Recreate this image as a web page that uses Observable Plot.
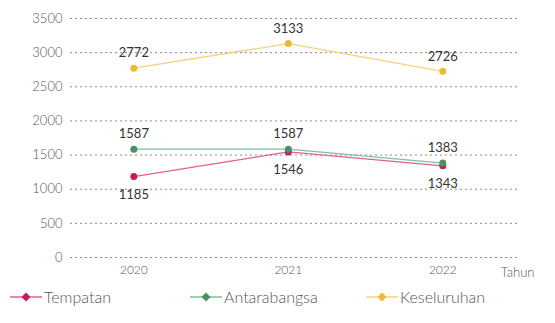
<!DOCTYPE html>
<html><head><meta charset="utf-8">
<script src="https://cdn.jsdelivr.net/npm/d3@7"></script>
<script src="https://cdn.jsdelivr.net/npm/@observablehq/plot@0.6"></script>
<style>
body{margin:0;background:#fff;font-family:Lato,"Open Sans",sans-serif;}
#legend{position:relative;height:30px;margin-top:-4px;font-size:16px;color:#555;font-weight:300;}
.item{display:flex;align-items:center;position:absolute;top:4px;}
</style></head><body>
<div id="chart"></div>
<div id="legend"></div>
<script>
const years = [2020, 2021, 2022];
const tempatan = [1185, 1546, 1343];
const antarabangsa = [1587, 1587, 1383];
const keseluruhan = [2772, 3133, 2726];
const seriesNames = ["Tempatan", "Antarabangsa", "Keseluruhan"];
const lineColors = ["#e0608e", "#7fbf9a", "#f3d37f"];
const dotColors = ["#c21e5a", "#47935f", "#e9b93a"];
const yTicks = [0, 500, 1000, 1500, 2000, 2500, 3000, 3500];

const data = [];
[tempatan, antarabangsa, keseluruhan].forEach((vals, i) =>
  vals.forEach((v, j) => data.push({series: seriesNames[i], year: years[j], value: v, below: i === 0})));

const color = {domain: seriesNames, range: lineColors};
const chart = Plot.plot({
  width: 555, height: 287,
  marginTop: 18, marginLeft: 70, marginRight: 37, marginBottom: 30,
  style: {fontFamily: "Lato, 'Open Sans', sans-serif", fontSize: "12px", color: "#444", background: "#fff"},
  x: {type: "linear", domain: [2019.59, 2022.49], label: null},
  y: {domain: [0, 3500], label: null},
  color,
  marks: [
    Plot.ruleY(yTicks, {y: d => d, stroke: "#8a8a8a", strokeOpacity: 1, strokeWidth: 1, strokeDasharray: "2,3"}),
    Plot.axisY(yTicks, {tickSize: 0, tickPadding: 8, fontSize: 13, fill: "#555", fontWeight: 300, tickFormat: d => String(d), label: null}),
    Plot.axisX(years, {tickSize: 0, tickPadding: 8, fontSize: 12, fill: "#555", fontWeight: 300, tickFormat: d => String(d), label: null}),
    Plot.text(["Tahun"], {frameAnchor: "bottom-right", dx: 16, dy: 19, fontSize: 13, fill: "#555", fontWeight: 300, textAnchor: "end"}),
    Plot.line(data, {x: "year", y: "value", z: "series", stroke: "series", strokeWidth: 1.3}),
    Plot.dot(data, {x: "year", y: "value", r: 3.5, fill: (d) => dotColors[seriesNames.indexOf(d.series)], stroke: "none"}),
    Plot.text(data.filter(d => !d.below), {x: "year", y: "value", text: d => String(d.value), dy: -15, fontSize: 13, fill: "#333"}),
    Plot.text(data.filter(d => d.below), {x: "year", y: "value", text: d => String(d.value), dy: 18, fontSize: 13, fill: "#333"})
  ]
});
document.getElementById("chart").appendChild(chart);

const legend = document.getElementById("legend");
const lefts = [10, 190, 366];
seriesNames.forEach((name, i) => {
  const item = document.createElement("div");
  item.className = "item";
  item.style.left = lefts[i] + "px";
  item.innerHTML = `<svg width="32" height="12"><line x1="0" y1="6" x2="32" y2="6" stroke="${lineColors[i]}" stroke-width="1.5"/><path d="M16 1.5 L20.5 6 L16 10.5 L11.5 6 Z" fill="${dotColors[i]}"/></svg><span style="margin-left:2px">${name}</span>`;
  legend.appendChild(item);
});
</script>
</body></html>
